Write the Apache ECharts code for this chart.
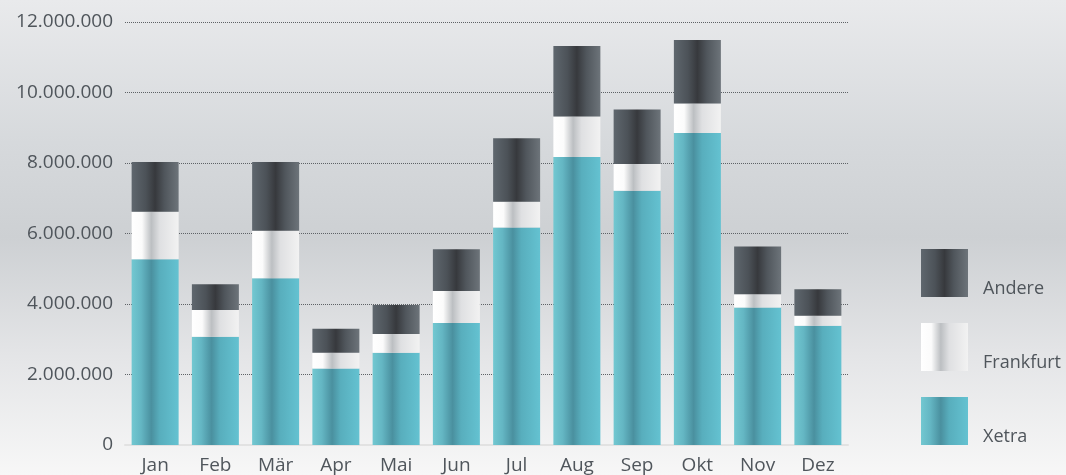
<!DOCTYPE html>
<html><head><meta charset="utf-8">
<script src="https://cdn.jsdelivr.net/npm/echarts@6/dist/echarts.min.js"></script>
<style>
html,body{margin:0;padding:0;}
#c{width:1066px;height:475px;background:linear-gradient(to bottom,#e9eaec 0%,#d6d9dc 30%,#cdd0d3 50%,#e4e5e7 75%,#f7f7f7 100%);}
</style></head>
<body><div id="c"></div>
<script>
const months = ['Jan','Feb','Mär','Apr','Mai','Jun','Jul','Aug','Sep','Okt','Nov','Dez'];
const xetra =     [5270000,3070000,4730000,2170000,2620000,3460000,6170000,8170000,7210000,8850000,3900000,3380000];
const frankfurt = [1350000, 760000,1350000, 450000, 530000, 910000, 730000,1150000, 760000, 840000, 380000, 290000];
const andere =    [1410000, 730000,1950000, 680000, 820000,1180000,1800000,2000000,1550000,1800000,1350000, 750000];
const yTicks = [0,2000000,4000000,6000000,8000000,10000000,12000000];

const G = (stops) => new echarts.graphic.LinearGradient(0,0,1,0, stops.map(s=>({offset:s[0],color:s[1]})));
const cXetra = G([[0,'#72c8d1'],[0.2,'#64b6c3'],[0.42,'#4a909f'],[0.6,'#58aebd'],[1,'#64c2d1']]);
const cFrank = G([[0,'#ffffff'],[0.22,'#fbfbfb'],[0.42,'#bcbfc2'],[0.6,'#dfe0e2'],[1,'#f2f2f2']]);
const cAndere = G([[0,'#5f676e'],[0.3,'#4c5258'],[0.5,'#37393d'],[0.7,'#50565c'],[1,'#6d747a']]);

const fmt = v => String(v).replace(/\B(?=(\d{3})+(?!\d))/g,'.');
const font = '"Open Sans", sans-serif';

const chart = echarts.init(document.getElementById('c'), null, {renderer:'canvas'});
chart.setOption({
  backgroundColor: 'transparent',
  animation: false,
  grid: {left:125, right:218, top:22, bottom:27, containLabel:false},
  legend: {
    orient:'vertical', left:921, top:248, padding:0, itemWidth:47, itemHeight:48, itemGap:24,
    data:['Andere','Frankfurt','Xetra'],
    icon:'rect',
    formatter: n => '{a|' + n + '}',
    textStyle:{
      fontFamily:font, fontSize:18, color:'#4f555b',
      rich:{a:{fontFamily:font, fontSize:18, color:'#4f555b', lineHeight:16, padding:[32,0,0,10]}}
    }
  },
  xAxis: {
    type:'category', data:months,
    axisLine:{show:true, lineStyle:{color:'#e2e2e2', width:2}},
    axisTick:{show:false},
    axisLabel:{fontFamily:font, fontSize:19, color:'#50565c', margin:11}
  },
  yAxis: {
    type:'value', min:0, max:12000000, interval:2000000,
    axisLine:{show:false}, axisTick:{show:false},
    axisLabel:{fontFamily:font, fontSize:19, color:'#4f555b', margin:12, formatter: v => fmt(v)},
    splitLine:{show:true, lineStyle:{color:'#5e6266', type:[1,1], width:1}}
  },
  series: [
    {name:'Xetra', type:'bar', stack:'s', barWidth:47, data:xetra, itemStyle:{color:cXetra}},
    {name:'Frankfurt', type:'bar', stack:'s', barWidth:47, data:frankfurt, itemStyle:{color:cFrank}},
    {name:'Andere', type:'bar', stack:'s', barWidth:47, data:andere, itemStyle:{color:cAndere}}
  ]
});
</script></body></html>
